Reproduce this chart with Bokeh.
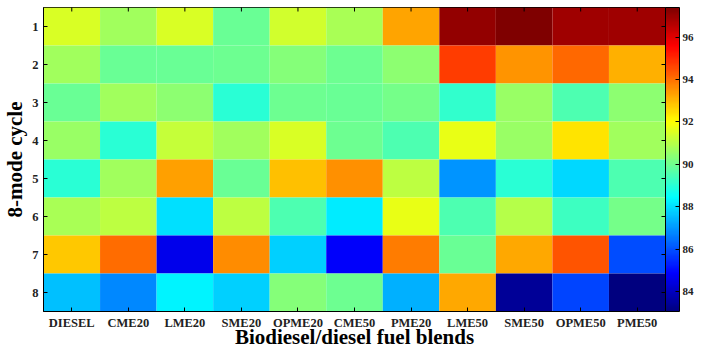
import numpy as np
from bokeh.plotting import figure
from bokeh.models import (ColumnDataSource, LinearColorMapper, ColorBar, FixedTicker, Range1d)
from bokeh.embed import file_html
from bokeh.resources import INLINE

fuels = ["DIESEL", "CME20", "LME20", "SME20", "OPME20", "CME50", "PME20",
         "LME50", "SME50", "OPME50", "PME50"]
modes = [1, 2, 3, 4, 5, 6, 7, 8]

mode1 = [91.5, 90.7, 91.5, 89.9, 91.4, 90.8, 93.3, 97.1, 97.4, 96.9, 96.9]
mode2 = [90.7, 89.9, 89.9, 90.0, 90.3, 90.0, 90.4, 94.75, 93.5, 94.1, 93.1]
mode3 = [89.9, 90.7, 90.4, 89.0, 90.0, 89.9, 90.1, 89.15, 90.6, 89.55, 90.4]
mode4 = [90.6, 89.0, 91.2, 90.7, 91.5, 90.0, 89.5, 91.7, 90.6, 92.4, 90.7]
mode5 = [89.0, 90.7, 93.35, 89.9, 92.9, 93.55, 91.1, 86.95, 89.0, 87.9, 89.5]
mode6 = [90.8, 91.1, 88.0, 91.1, 89.55, 88.2, 91.7, 89.5, 91.0, 89.3, 90.1]
mode7 = [92.75, 94.05, 84.6, 93.6, 87.8, 84.8, 93.85, 89.9, 93.2, 94.4, 85.95]
mode8 = [87.55, 86.8, 88.3, 87.8, 90.3, 90.0, 87.35, 93.2, 83.4, 85.85, 83.1]
rows = [mode1, mode2, mode3, mode4, mode5, mode6, mode7, mode8]

cbar_low, cbar_high = 83.05, 97.4
cbar_ticks = [84, 86, 88, 90, 92, 94, 96]


def jet(n=256):
    cols = []
    for t in np.linspace(0, 1, n):
        r = np.clip(1.5 - abs(4 * t - 3), 0, 1)
        g = np.clip(1.5 - abs(4 * t - 2), 0, 1)
        b = np.clip(1.5 - abs(4 * t - 1), 0, 1)
        cols.append("#%02x%02x%02x" % (int(r * 255), int(g * 255), int(b * 255)))
    return cols


xs, ys, vals = [], [], []
for mi, row in zip(modes, rows):
    for fi, v in enumerate(row):
        xs.append(fi + 1)
        ys.append(mi)
        vals.append(v)
src = ColumnDataSource(dict(x=xs, y=ys, v=vals))

mapper = LinearColorMapper(palette=jet(), low=cbar_low, high=cbar_high)

FONT = "Times New Roman"

x_lo, x_hi = 0.5, len(fuels) + 0.5
y_lo, y_hi = 0.5, len(modes) + 0.5

p = figure(width=702, height=351, output_backend="svg", toolbar_location=None,
           x_range=Range1d(x_lo, x_hi), y_range=Range1d(y_hi, y_lo),
           min_border_left=40, min_border_top=7, min_border_bottom=39, min_border_right=37)
p.rect(x="x", y="y", width=1, height=1, source=src,
       fill_color={"field": "v", "transform": mapper}, line_color=None)

# mirrored inner ticks on top and right edges (clipped to the frame -> 4px inside)
col_idx = list(range(1, len(fuels) + 1))
p.scatter(x=col_idx, y=[y_lo] * len(col_idx), marker="dash", angle=np.pi / 2, size=8,
          line_color="black", line_width=1)
p.scatter(x=[x_hi] * len(modes), y=modes, marker="dash", size=8,
          line_color="black", line_width=1)

p.grid.visible = False
p.outline_line_color = "black"
p.background_fill_color = "white"
p.border_fill_color = "white"

xa = p.xaxis[0]
xa.ticker = FixedTicker(ticks=col_idx)
xa.major_label_overrides = {i + 1: f for i, f in enumerate(fuels)}
xa.axis_label = "Biodiesel/diesel fuel blends"
ya = p.yaxis[0]
ya.ticker = FixedTicker(ticks=modes)
ya.axis_label = "8-mode cycle"
for ax in (xa, ya):
    ax.major_tick_in = 4
    ax.major_tick_out = 0
    ax.minor_tick_line_color = None
    ax.axis_line_color = "black"
    ax.major_label_text_font = FONT
    ax.major_label_text_font_style = "bold"
    ax.major_label_text_font_size = "12.5px"
    ax.major_label_text_color = "#222222"
    ax.axis_label_text_font = FONT
    ax.axis_label_text_font_style = "bold"
    ax.axis_label_text_font_size = "21px"
    ax.axis_label_text_color = "black"
xa.major_label_standoff = 4
xa.axis_label_standoff = -8
ya.major_label_standoff = 5
ya.axis_label_standoff = 2

cb = ColorBar(color_mapper=mapper, ticker=FixedTicker(ticks=cbar_ticks), width=14,
              padding=0, margin=6, label_standoff=3, major_tick_in=4, major_tick_out=0,
              major_tick_line_color="black", minor_tick_line_color=None,
              bar_line_color="black", border_line_color=None, background_fill_alpha=0,
              major_label_text_font=FONT, major_label_text_font_style="bold",
              major_label_text_font_size="11px", major_label_text_color="#222222")
p.add_layout(cb, "right")

open("out.html", "w").write(file_html(p, INLINE))
